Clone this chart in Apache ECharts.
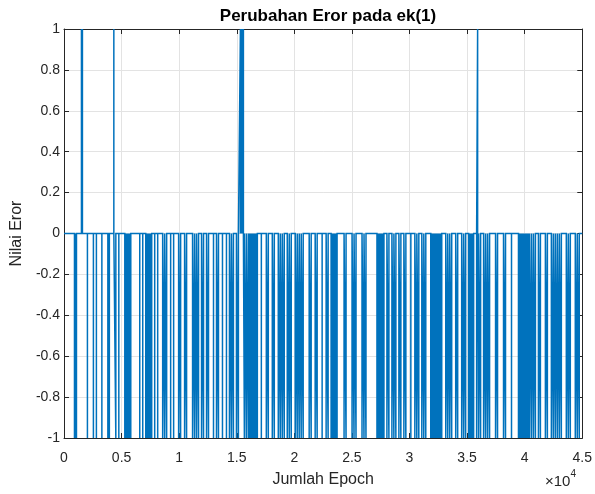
<!DOCTYPE html>
<html>
<head>
<meta charset="utf-8">
<script src="https://cdn.jsdelivr.net/npm/echarts@6/dist/echarts.min.js"></script>
<style>
  html, body { margin: 0; padding: 0; background: #ffffff; }
  #chart { width: 595px; height: 494px; }
</style>
</head>
<body>
<div id="chart"></div>
<script>
// Epochs at which the error ek(1) drops to -1 (one epoch each)
const dropEpochs = [
  909, 995, 1082, 2034, 2553, 2813, 3288, 3808, 3938, 4500, 4760,
  5279, 5365, 5452, 5538, 5625, 5712, 5798, 6577, 6837,
  7096, 7183, 7269, 7356, 7442, 7529, 7615, 7875, 8135,
  8567, 8740, 8913, 9260, 9519, 9952, 10125, 10471, 10644,
  11163, 11337, 11510, 11683, 11942, 12115, 12375, 12548, 12981,
  13240, 13413, 13760, 14106, 14365, 14538, 14711, 14971, 15144,
  15663, 15837, 16010, 16096, 16183, 16269, 16356, 16442, 16529, 16615, 16702, 16788,
  17135, 17567, 17740, 18086, 18260, 18606, 18779, 18952, 19125,
  19385, 19558, 19731, 20077, 20250, 20423, 20596, 20769, 21288, 21462,
  21808, 21981, 22413, 22760, 22933,
  23192, 23279, 23365, 23452, 23538, 23625, 23711, 24317, 24490,
  25010, 25183, 25356, 25875, 26048, 26221,
  27173, 27260, 27346, 27433, 27519, 27606, 27692, 27779,
  28038, 28212, 28471, 28644, 28817, 29077, 29250, 29510, 29683,
  30115, 30462, 30635, 30808, 31067, 31240, 31413,
  31846, 31933, 32019, 32106, 32192, 32279, 32365, 32452, 32538, 32625, 32712, 32798,
  33144, 33317, 33490, 33663, 34010, 34183, 34529, 34702, 34875,
  35135, 35221, 35308, 35394, 35481, 35567, 35827, 36000, 36173,
  36433, 36606, 36779, 36952, 37471, 37644, 38163, 38336, 38856,
  39461, 39548, 39635, 39721, 39808, 39894, 39981, 40067, 40154, 40240, 40327, 40413,
  40587, 40760, 40933, 41192, 41365, 41798, 41971,
  42317, 42490, 42663, 42837, 43010, 43183, 43615, 43788, 43962,
  44394, 44567, 44740
];

// Epochs at which the error ek(1) jumps to +1 (one epoch each)
const riseEpochs = [1515, 1600, 4327, 15318, 15404, 15491, 15577, 35914];

const totalEpochs = 45000;
const xTicks = ['0', '0.5', '1', '1.5', '2', '2.5', '3', '3.5', '4', '4.5'];

// Error signal: zero everywhere except the listed one-epoch excursions
const events = dropEpochs.map(e => [e, -1])
  .concat(riseEpochs.map(e => [e, 1]))
  .sort((a, b) => a[0] - b[0]);

const signal = [[1, 0]];
events.forEach(([e, v]) => {
  signal.push([e, 0], [e, v], [e + 1, v], [e + 1, 0]);
});
signal.push([totalEpochs, 0]);

const axisColor = '#262626';
const gridColor = '#e3e3e3';
const font = 'Liberation Sans, Arial, Helvetica, sans-serif';

const boxAxis = {
  axisLine: { show: true, onZero: false, lineStyle: { color: axisColor, width: 1 } },
  axisTick: { show: true, inside: true, length: 5, lineStyle: { color: axisColor } }
};

const chart = echarts.init(document.getElementById('chart'), null, { renderer: 'canvas' });

chart.setOption({
  animation: false,
  backgroundColor: '#ffffff',
  title: {
    text: 'Perubahan Eror pada ek(1)',
    left: 323,
    top: 3,
    textAlign: 'center',
    textStyle: { fontFamily: font, fontSize: 17, fontWeight: 'bold', color: '#000000' }
  },
  grid: { left: 64, right: 11, top: 29, bottom: 56, containLabel: false },
  xAxis: [
    Object.assign({
      type: 'value', position: 'bottom',
      min: 0, max: totalEpochs, interval: 5000,
      name: 'Jumlah Epoch', nameLocation: 'middle', nameGap: 34,
      nameTextStyle: { fontFamily: font, fontSize: 16, color: axisColor },
      axisLabel: {
        fontFamily: font, fontSize: 14, color: axisColor, margin: 13,
        formatter: v => xTicks[Math.round(v / 5000)]
      },
      splitLine: { show: true, lineStyle: { color: gridColor, width: 1 } }
    }, boxAxis),
    Object.assign({
      type: 'value', position: 'top',
      min: 0, max: totalEpochs, interval: 5000,
      axisLabel: { show: false },
      splitLine: { show: false }
    }, boxAxis)
  ],
  yAxis: [
    Object.assign({
      type: 'value', position: 'left',
      min: -1, max: 1, interval: 0.2,
      name: 'Nilai Eror', nameLocation: 'middle', nameGap: 36,
      nameTextStyle: { fontFamily: font, fontSize: 16, color: axisColor },
      axisLabel: {
        fontFamily: font, fontSize: 14, color: axisColor, margin: 4,
        formatter: v => String(+v.toFixed(1))
      },
      splitLine: { show: true, lineStyle: { color: gridColor, width: 1 } }
    }, boxAxis),
    Object.assign({
      type: 'value', position: 'right',
      min: -1, max: 1, interval: 0.2,
      axisLabel: { show: false },
      splitLine: { show: false }
    }, boxAxis)
  ],
  series: [
    {
      type: 'line',
      xAxisIndex: 0, yAxisIndex: 0,
      data: signal,
      showSymbol: false,
      symbol: 'none',
      sampling: null,
      lineStyle: { color: '#0072BD', width: 1.5, join: 'miter' },
      z: 1
    }
  ],
  graphic: [
    {
      type: 'text',
      left: 545, top: 469,
      style: {
        text: '{a|\u00d710}{b|4}',
        fill: axisColor,
        rich: {
          a: { fontFamily: font, fontSize: 15, fill: axisColor, verticalAlign: 'bottom' },
          b: { fontFamily: font, fontSize: 10, fill: axisColor, verticalAlign: 'top', padding: [0, 0, 10, 0] }
        }
      }
    }
  ]
});
</script>
</body>
</html>
